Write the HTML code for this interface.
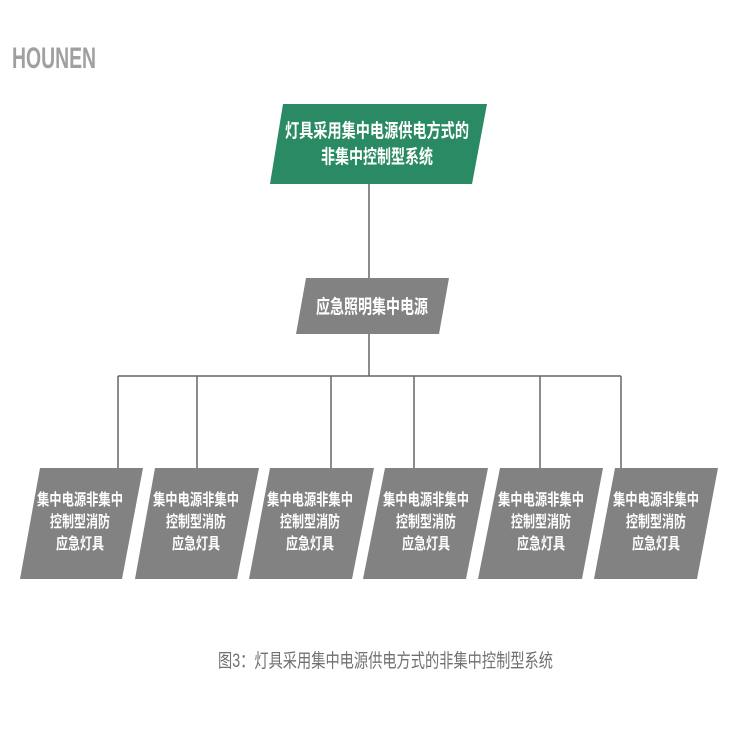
<!DOCTYPE html>
<html><head><meta charset="utf-8"><style>body{margin:0;background:#fff}</style></head><body>
<svg width="750" height="750" xmlns="http://www.w3.org/2000/svg" style="display:block">
<g font-family="Liberation Sans, Noto Sans CJK SC, sans-serif">
<text x="12" y="68" font-size="30" font-weight="bold" fill="#a0a0a0" textLength="84" lengthAdjust="spacingAndGlyphs">HOUNEN</text>
<g stroke="#666" stroke-width="1.5" fill="none">
<line x1="369" y1="184" x2="369" y2="278"/>
<line x1="369" y1="334" x2="369" y2="376"/>
<line x1="118" y1="376" x2="621" y2="376"/>
<line x1="118" y1="376" x2="118" y2="468"/>
<line x1="197" y1="376" x2="197" y2="468"/>
<line x1="331" y1="376" x2="331" y2="468"/>
<line x1="414" y1="376" x2="414" y2="468"/>
<line x1="540" y1="376" x2="540" y2="468"/>
<line x1="621" y1="376" x2="621" y2="468"/>
</g>
<polygon points="283,104 487,104 472,184 270,184" fill="#2a8a63"/>
<g font-weight="bold">
<text x="377" y="137" font-size="19" fill="#fff" text-anchor="middle" textLength="184" lengthAdjust="spacingAndGlyphs">灯具采用集中电源供电方式的</text>
<text x="377" y="163" font-size="19" fill="#fff" text-anchor="middle" textLength="112" lengthAdjust="spacingAndGlyphs">非集中控制型系统</text>
</g>
<polygon points="306,278 449,278 439,334 296,334" fill="#828282"/>
<text x="372" y="313" font-size="19" font-weight="bold" fill="#fff" text-anchor="middle" textLength="112" lengthAdjust="spacingAndGlyphs">应急照明集中电源</text>
<g fill="#828282">
<polygon points="40,468 143,468 122,579 20,579"/>
<polygon points="155,468 259,468 237,579 135,579"/>
<polygon points="270,468 374,468 352,579 249,579"/>
<polygon points="385,468 488,468 466,579 363,579"/>
<polygon points="500,468 603,468 582,579 478,579"/>
<polygon points="615,468 718,468 697,579 594,579"/>
</g>
<g font-size="16" font-weight="bold" fill="#fff" text-anchor="middle">
<g transform="translate(80,0)"><text x="0" y="505" textLength="86" lengthAdjust="spacingAndGlyphs">集中电源非集中</text><text x="0" y="527" textLength="60" lengthAdjust="spacingAndGlyphs">控制型消防</text><text x="0" y="549" textLength="48" lengthAdjust="spacingAndGlyphs">应急灯具</text></g>
<g transform="translate(196,0)"><text x="0" y="505" textLength="86" lengthAdjust="spacingAndGlyphs">集中电源非集中</text><text x="0" y="527" textLength="60" lengthAdjust="spacingAndGlyphs">控制型消防</text><text x="0" y="549" textLength="48" lengthAdjust="spacingAndGlyphs">应急灯具</text></g>
<g transform="translate(310,0)"><text x="0" y="505" textLength="86" lengthAdjust="spacingAndGlyphs">集中电源非集中</text><text x="0" y="527" textLength="60" lengthAdjust="spacingAndGlyphs">控制型消防</text><text x="0" y="549" textLength="48" lengthAdjust="spacingAndGlyphs">应急灯具</text></g>
<g transform="translate(426,0)"><text x="0" y="505" textLength="86" lengthAdjust="spacingAndGlyphs">集中电源非集中</text><text x="0" y="527" textLength="60" lengthAdjust="spacingAndGlyphs">控制型消防</text><text x="0" y="549" textLength="48" lengthAdjust="spacingAndGlyphs">应急灯具</text></g>
<g transform="translate(541,0)"><text x="0" y="505" textLength="86" lengthAdjust="spacingAndGlyphs">集中电源非集中</text><text x="0" y="527" textLength="60" lengthAdjust="spacingAndGlyphs">控制型消防</text><text x="0" y="549" textLength="48" lengthAdjust="spacingAndGlyphs">应急灯具</text></g>
<g transform="translate(656,0)"><text x="0" y="505" textLength="86" lengthAdjust="spacingAndGlyphs">集中电源非集中</text><text x="0" y="527" textLength="60" lengthAdjust="spacingAndGlyphs">控制型消防</text><text x="0" y="549" textLength="48" lengthAdjust="spacingAndGlyphs">应急灯具</text></g>
</g>
<text x="218" y="667" font-size="19" fill="#707070" textLength="335" lengthAdjust="spacingAndGlyphs">图3：灯具采用集中电源供电方式的非集中控制型系统</text>
</g>
</svg>
</body></html>
